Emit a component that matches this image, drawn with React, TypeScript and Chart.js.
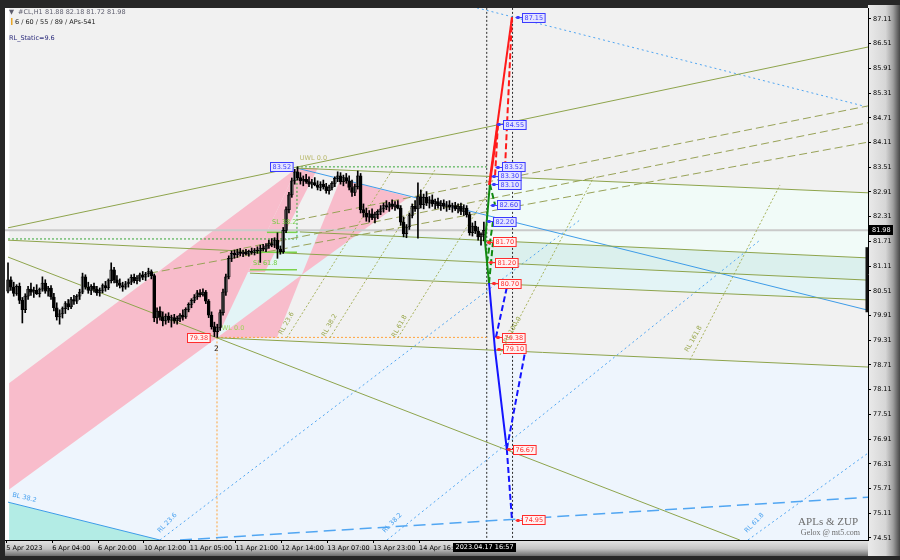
import React, { useEffect, useRef } from 'react';
import { Chart, registerables } from 'chart.js';

Chart.register(...registerables);

type Pt = [number, number];

// ---------- DATA ----------
// H1 candles: [open, high, low, close], bar index = position
const OHLC: number[][] = [
  [80.50, 81.19, 80.46, 80.78], [80.78, 80.85, 80.52, 80.60], [80.60, 80.72, 80.38, 80.45], [80.45, 80.66, 80.40, 80.62],
  [80.62, 80.70, 80.20, 80.28], [80.28, 80.35, 79.73, 80.05], [80.05, 80.44, 79.98, 80.38], [80.38, 80.62, 80.30, 80.55],
  [80.55, 80.70, 80.40, 80.48], [80.48, 80.60, 80.35, 80.52], [80.52, 80.66, 80.42, 80.44], [80.44, 80.58, 80.36, 80.55],
  [80.55, 80.85, 80.50, 80.70], [80.70, 80.78, 80.45, 80.50], [80.50, 80.62, 80.38, 80.58], [80.58, 80.64, 80.30, 80.36],
  [80.36, 80.45, 80.02, 80.10], [80.10, 80.22, 79.80, 79.88], [79.88, 80.05, 79.70, 79.95], [79.95, 80.12, 79.85, 80.08],
  [80.08, 80.25, 79.96, 80.20], [80.20, 80.30, 80.05, 80.12], [80.12, 80.35, 80.08, 80.30], [80.30, 80.40, 80.18, 80.26],
  [80.26, 80.42, 80.20, 80.38], [80.38, 80.55, 80.30, 80.48], [80.48, 80.94, 80.44, 80.85], [80.85, 80.90, 80.55, 80.60],
  [80.60, 80.72, 80.45, 80.52], [80.52, 80.66, 80.42, 80.62], [80.62, 80.70, 80.48, 80.55], [80.55, 80.62, 80.40, 80.46],
  [80.46, 80.58, 80.38, 80.52], [80.52, 80.68, 80.46, 80.64], [80.64, 80.74, 80.50, 80.58], [80.58, 80.80, 80.54, 80.76],
  [80.76, 81.19, 80.70, 81.02], [81.02, 81.08, 80.70, 80.78], [80.78, 80.88, 80.62, 80.70], [80.70, 80.80, 80.58, 80.64],
  [80.64, 80.72, 80.50, 80.60], [80.60, 80.74, 80.55, 80.68], [80.68, 80.80, 80.60, 80.72], [80.72, 80.90, 80.66, 80.84],
  [80.84, 80.92, 80.70, 80.76], [80.76, 80.88, 80.68, 80.82], [80.82, 80.94, 80.74, 80.90], [80.90, 80.98, 80.78, 80.84],
  [80.84, 80.96, 80.76, 80.92], [80.92, 81.06, 80.85, 80.98], [80.98, 81.02, 80.80, 80.88], [80.88, 80.92, 79.76, 79.85],
  [79.85, 80.10, 79.72, 80.02], [80.02, 80.12, 79.80, 79.88], [79.88, 80.00, 79.66, 79.78], [79.78, 79.95, 79.70, 79.90],
  [79.90, 79.98, 79.74, 79.80], [79.80, 79.92, 79.63, 79.86], [79.86, 79.94, 79.72, 79.78], [79.78, 79.90, 79.70, 79.84],
  [79.84, 79.96, 79.76, 79.92], [79.92, 80.05, 79.80, 79.88], [79.88, 80.10, 79.84, 80.06], [80.06, 80.22, 80.00, 80.18],
  [80.18, 80.32, 80.10, 80.28], [80.28, 80.42, 80.22, 80.36], [80.36, 80.52, 80.30, 80.46], [80.46, 80.54, 80.36, 80.42],
  [80.42, 80.56, 80.38, 80.48], [80.48, 80.52, 80.20, 80.26], [80.26, 80.30, 79.86, 79.92], [79.92, 80.00, 79.58, 79.64],
  [79.64, 79.75, 79.40, 79.52], [79.52, 79.70, 79.38, 79.62], [79.62, 80.05, 79.55, 79.98], [79.98, 80.55, 79.92, 80.48],
  [80.48, 80.92, 80.40, 80.85], [80.85, 81.36, 80.80, 81.30], [81.30, 81.48, 81.22, 81.42], [81.42, 81.50, 81.30, 81.38],
  [81.38, 81.52, 81.32, 81.46], [81.46, 81.54, 81.36, 81.42], [81.42, 81.50, 81.34, 81.45], [81.45, 81.52, 81.38, 81.40],
  [81.40, 81.50, 81.35, 81.47], [81.47, 81.55, 81.40, 81.44], [81.44, 81.54, 81.38, 81.50], [81.50, 81.58, 81.42, 81.48],
  [81.48, 81.62, 81.20, 81.55], [81.55, 81.64, 81.48, 81.52], [81.52, 81.66, 81.46, 81.60], [81.60, 81.74, 81.54, 81.66],
  [81.66, 81.78, 81.58, 81.62], [81.62, 81.80, 81.56, 81.74], [81.74, 81.92, 81.30, 81.52], [81.52, 81.60, 81.40, 81.46],
  [81.46, 82.05, 81.42, 81.98], [81.98, 82.55, 81.92, 82.48], [82.48, 82.90, 82.40, 82.84], [82.84, 83.25, 82.78, 83.18],
  [83.18, 83.46, 83.10, 83.40], [83.40, 83.52, 83.20, 83.26], [83.26, 83.38, 83.10, 83.18], [83.18, 83.30, 83.06, 83.22],
  [83.22, 83.34, 83.12, 83.16], [83.16, 83.28, 83.04, 83.10], [83.10, 83.22, 83.00, 83.14], [83.14, 83.26, 83.06, 83.08],
  [83.08, 83.18, 82.96, 83.02], [83.02, 83.16, 82.94, 83.10], [83.10, 83.20, 82.98, 83.04], [83.04, 83.12, 82.88, 82.94],
  [82.94, 83.08, 82.86, 83.02], [83.02, 83.16, 82.96, 83.12], [83.12, 83.28, 83.04, 83.24], [83.24, 83.40, 83.16, 83.30],
  [83.30, 83.38, 83.10, 83.16], [83.16, 83.32, 83.06, 83.26], [83.26, 83.36, 83.12, 83.18], [83.18, 83.30, 82.96, 83.02],
  [83.02, 83.20, 82.80, 82.90], [82.90, 83.10, 82.82, 83.04], [83.04, 83.42, 82.98, 83.30], [83.30, 83.36, 82.40, 82.48],
  [82.48, 82.62, 82.30, 82.40], [82.40, 82.52, 82.20, 82.30], [82.30, 82.46, 82.18, 82.38], [82.38, 82.50, 82.24, 82.28],
  [82.28, 82.42, 82.16, 82.36], [82.36, 82.48, 82.26, 82.44], [82.44, 82.58, 82.36, 82.50], [82.50, 82.64, 82.42, 82.58],
  [82.58, 82.70, 82.48, 82.54], [82.54, 82.66, 82.44, 82.62], [82.62, 82.72, 82.50, 82.56], [82.56, 82.68, 82.46, 82.60],
  [82.60, 82.70, 82.50, 82.52], [82.52, 82.58, 82.10, 82.18], [82.18, 82.30, 81.82, 81.90], [81.90, 82.12, 81.80, 82.06],
  [82.06, 82.40, 82.00, 82.34], [82.34, 82.62, 82.28, 82.56], [82.56, 82.70, 82.44, 82.50], [82.50, 83.13, 81.79, 82.80],
  [82.80, 82.96, 82.52, 82.60], [82.60, 82.86, 82.50, 82.78], [82.78, 82.92, 82.58, 82.64], [82.64, 82.80, 82.52, 82.72],
  [82.72, 82.84, 82.56, 82.62], [82.62, 82.74, 82.50, 82.68], [82.68, 82.76, 82.52, 82.58], [82.58, 82.70, 82.46, 82.64],
  [82.64, 82.72, 82.50, 82.56], [82.56, 82.68, 82.44, 82.60], [82.60, 82.70, 82.48, 82.54], [82.54, 82.64, 82.42, 82.58],
  [82.58, 82.66, 82.46, 82.50], [82.50, 82.62, 82.40, 82.56], [82.56, 82.64, 82.36, 82.44], [82.44, 82.60, 82.34, 82.52],
  [82.52, 82.58, 82.30, 82.36], [82.36, 82.42, 81.86, 81.92], [81.92, 82.16, 81.84, 82.08], [82.08, 82.20, 81.90, 81.96],
  [81.96, 82.06, 81.74, 81.82], [81.82, 81.92, 81.62, 81.88], [81.88, 82.18, 81.72, 81.98],
];

const Y_TICKS = [74.51, 75.11, 75.71, 76.31, 76.91, 77.51, 78.11, 78.71, 79.31, 79.91, 80.51,
  81.11, 81.71, 82.31, 82.91, 83.51, 84.11, 84.71, 85.31, 85.91, 86.51, 87.11];
const X_TICK_BARS = [-0.6, 15.4, 31.4, 47.4, 63.4, 79.4, 95.4, 111.4, 127.4, 143.4];
const X_TICK_LABELS = ['5 Apr 2023', '6 Apr 04:00', '6 Apr 20:00', '10 Apr 12:00', '11 Apr 05:00',
  '11 Apr 21:00', '12 Apr 14:00', '13 Apr 07:00', '13 Apr 23:00', '14 Apr 16:00'];

const SYMBOL = '#CL,H1';
const LAST_OHLC = [81.88, 82.18, 81.72, 81.98];
const ZUP_PARAMS = '6 / 60 / 55 / 89 / APs-541';
const RL_STATIC = 'RL_Static=9.6';
const BID = 81.98;
const CURRENT_TIME = '2023.04.17 16:57';
const MARKER_BARS = [167, 176];
const RIGHT_BAR_RANGE = [79.99, 81.57];

// line objects, [bar, price]
const OLIVE_SOLID: Pt[][] = [
  [[0, 82.04], [300, 86.43]],
  [[0, 81.74], [300, 80.77]],
  [[0, 81.33], [255.3, 74.46]],
  [[72.9, 79.37], [300, 78.66]],
  [[100.8, 83.49], [300, 82.89]],
  [[101.8, 81.94], [300, 81.31]],
  [[84.4, 80.94], [300, 80.29]],
];
const OLIVE_DASHED: Pt[][] = [
  [[100.8, 82.23], [300, 85.0]],
  [[73.9, 81.43], [300, 84.59]],
  [[49.5, 80.94], [300, 84.12]],
];
const RL_LINES: Pt[][] = [
  [[97.3, 79.37], [134.0, 83.44]],
  [[112.3, 79.37], [148.9, 83.44]],
  [[136.0, 79.37], [168.1, 82.96]],
  [[171.6, 78.95], [204.7, 83.32]],
  [[237.9, 78.83], [269.3, 83.08]],
];
const RL_NAMES = ['RL 23.6', 'RL 38.2', 'RL 61.8', 'RL 100.0', 'RL 161.8'];
const RL_ANCHORS: Pt[] = [[95.6, 79.44], [110.6, 79.39], [135.0, 79.37], [174.1, 79.24], [237.2, 79.02]];
const BLUE_RL_NAMES = ['RL 23.6', 'RL 38.2', 'RL 61.8'];
const BLUE_RL_ANCHORS: Pt[] = [[53, 74.63], [131.5, 74.63], [257.8, 74.63]];
const BLUE_DOTTED: Pt[][] = [
  [[53.0, 74.46], [199.5, 82.23]],
  [[132.2, 74.46], [262.3, 81.74]],
  [[258.1, 74.46], [300, 76.57]],
  [[163.6, 87.38], [300, 84.97]],
];
const BLUE_SOLID: Pt[][] = [
  [[100.8, 83.49], [300, 80.04]],
  [[0, 75.38], [53, 74.46]],
];
const BLUE_LONGDASH: Pt[][] = [[[60, 74.46], [300, 75.5]]];
const GREEN_DOTTED: Pt[][] = [
  [[0, 81.77], [100.8, 81.77]],
  [[100.8, 83.52], [100.8, 81.77]],
  [[100.8, 83.52], [167, 83.52]],
];
const ORANGE_DOTTED: Pt[][] = [
  [[72.9, 79.38], [167, 79.38]],
  [[72.9, 79.38], [72.9, 74.46]],
];
const GREEN_SHORT: Pt[][] = [
  [[90.3, 81.93], [100.8, 81.93]],
  [[84.4, 81.45], [100.8, 81.45]],
  [[84.4, 81.02], [100.8, 81.02]],
];
const ZUP_RED_SOLID: Pt[][] = [[[167.8, 83.08], [175.8, 87.15]], [[168.1, 83.10], [170.9, 84.55]]];
const ZUP_RED_DASHED: Pt[][] = [[[175.8, 87.15], [173.4, 83.52]], [[170.9, 84.55], [169.9, 83.30]]];
const ZUP_GREEN_SOLID: Pt[][] = [[[167.8, 80.70], [167.1, 81.20], [166.4, 81.70], [168.1, 83.10]]];
const ZUP_GREEN_DASHED: Pt[][] = [
  [[167.1, 81.20], [169.2, 82.20]], [[168.1, 83.10], [169.9, 82.60]], [[167.8, 80.70], [169.2, 81.70]],
];
const ZUP_BLUE_SOLID: Pt[][] = [[[167.8, 80.70], [169.9, 79.07], [174.0, 76.67]]];
const ZUP_BLUE_DASHED: Pt[][] = [
  [[174.0, 76.67], [175.8, 74.95]], [[174.0, 76.67], [180.3, 79.0]], [[170.2, 79.38], [174.4, 80.72]],
];
const ZUP_UP_LEVELS = [87.15, 84.55, 83.52, 83.30, 83.10, 82.60, 82.20];
const ZUP_UP_BARS = [179.3, 172.7, 172.3, 170.9, 170.9, 170.6, 169.2];
const ZUP_DN_LEVELS = [81.70, 81.20, 80.70, 79.38, 79.10, 76.67, 74.95];
const ZUP_DN_BARS = [169.2, 169.9, 170.9, 172.3, 172.7, 176.1, 179.3];
const PIVOT_HIGH: Pt = [91.4, 83.52];
const PIVOT_LOW: Pt = [62.4, 79.38];
const PIVOT_LOW_NAME = '2';
const PIVOT_LOW_NAME_AT: Pt = [72.9, 79.15];
const LEVEL_TEXTS = ['UWL 0.0', 'SL 38.2', 'SL 61.8', 'WL 0.0'];
const LEVEL_TEXT_AT: Pt[] = [[101.8, 83.69], [92.1, 82.13], [85.5, 81.14], [74.6, 79.56]];
const BL_TEXT = 'BL 38.2';
const BL_TEXT_AT: Pt = [1.4, 75.52];

// shaded zones
const ZONE_AZURE: Pt[] = [[0, 75.67], [72.9, 79.37], [300, 78.66], [300, 74.46], [0, 74.46]];
const ZONE_TURQ: Pt[] = [[0, 75.38], [53, 74.46], [0, 74.46]];
const ZONE_CYAN: Pt[] = [[72.9, 79.37], [88.6, 82.04], [300, 81.31], [300, 80.29], [102.5, 80.90], [93.8, 79.37]];
const ZONE_TEAL: Pt[] = [[167, 81.73], [300, 81.31], [300, 80.77], [167, 81.22]];
const ZONE_MINT: Pt[] = [[167, 83.29], [300, 82.89], [300, 81.31], [167, 81.73]];
const ZONE_PINK: Pt[][] = [
  [[100.8, 83.49], [0, 78.25], [0, 75.67], [72.9, 79.37]],
  [[72.9, 79.37], [93.8, 79.37], [102.5, 80.90]],
  [[102.5, 80.90], [116.0, 83.23], [139.9, 82.79]],
  [[83.7, 80.97], [89.6, 80.97], [108.1, 83.49], [100.8, 83.49]],
];

// ---------- RENDER ----------
const F = '"DejaVu Sans", "Liberation Sans", sans-serif';

const seg = (pts: Pt[], color: string, width: number, dash: number[], order: number) => ({
  type: 'line' as const,
  data: pts.map(([x, y]) => ({ x, y })),
  borderColor: color,
  borderWidth: width,
  borderDash: dash,
  pointRadius: 0,
  pointHoverRadius: 0,
  fill: false,
  tension: 0,
  order,
});

export default function App() {
  const ref = useRef<HTMLCanvasElement>(null);

  useEffect(() => {
    const canvas = ref.current!;

    const px = (chart: any, b: number, p: number) => [
      chart.scales.x.getPixelForValue(b),
      chart.scales.y.getPixelForValue(p),
    ];

    const poly = (chart: any, pts: Pt[], color: string) => {
      const ctx = chart.ctx;
      ctx.beginPath();
      pts.forEach(([b, p], i) => {
        const [X, Y] = px(chart, b, p);
        if (i) ctx.lineTo(X, Y); else ctx.moveTo(X, Y);
      });
      ctx.closePath();
      ctx.fillStyle = color;
      ctx.fill();
    };

    const framePlugin = {
      id: 'frame',
      beforeDraw(chart: any) {
        const ctx = chart.ctx;
        const { left, top, right, bottom } = chart.chartArea;
        ctx.save();
        ctx.fillStyle = '#272727';
        ctx.fillRect(0, 0, 900, 560);
        let g = ctx.createLinearGradient(right, 0, 900, 0);
        g.addColorStop(0, '#eaeaea');
        g.addColorStop(0.55, '#d6d6d6');
        g.addColorStop(0.78, '#a0a0a0');
        g.addColorStop(1, '#474747');
        ctx.fillStyle = g;
        ctx.fillRect(right, top - 3, 900 - right, bottom - top + 19);
        g = ctx.createLinearGradient(0, bottom, 0, bottom + 16);
        g.addColorStop(0, '#e6e6e6');
        g.addColorStop(0.55, '#c4c4c4');
        g.addColorStop(1, '#6c6c6c');
        ctx.fillStyle = g;
        ctx.fillRect(left, bottom, right - left, 16);
        ctx.fillStyle = '#ffffff';
        ctx.fillRect(left, top, right - left, bottom - top);
        const x0 = chart.scales.x.getPixelForValue(0.4);
        ctx.beginPath();
        ctx.rect(x0, top, right - x0, bottom - top);
        ctx.clip();
        ctx.fillStyle = '#f1f1f1';
        ctx.fillRect(x0, top, right - x0, bottom - top);
        poly(chart, ZONE_AZURE, '#eef5fd');
        poly(chart, ZONE_TURQ, '#b3ece5');
        poly(chart, ZONE_CYAN, '#e3f4f6');
        poly(chart, ZONE_MINT, '#f1fbf8');
        poly(chart, ZONE_TEAL, '#dbf0ed');
        ZONE_PINK.forEach((z) => poly(chart, z, '#f8bccb'));
        ctx.restore();
      },
      afterDatasetsDraw(chart: any) {
        const ctx = chart.ctx;
        const { left, top, right, bottom } = chart.chartArea;
        ctx.save();
        ctx.beginPath();
        ctx.rect(left, top, right - left, bottom - top);
        ctx.clip();

        const box = (b: number, p: number, txt: string, up: boolean, marker: boolean) => {
          const [X, Y] = px(chart, b, p);
          ctx.font = `6.5px ${F}`;
          const w = ctx.measureText(txt).width + 4;
          const h = 9;
          const col = up ? '#3b3bff' : '#ff2d2d';
          const x = Math.round(X) + 0.5;
          const y = Math.round(Y - h / 2) + 0.5;
          ctx.fillStyle = up ? '#e4e4ff' : '#fff2f2';
          ctx.fillRect(x, y, w, h);
          ctx.strokeStyle = col;
          ctx.lineWidth = 1;
          ctx.strokeRect(x, y, w, h);
          if (marker) {
            ctx.beginPath();
            ctx.moveTo(x - 7, Math.round(Y) + 0.5);
            ctx.lineTo(x, Math.round(Y) + 0.5);
            ctx.stroke();
            ctx.fillStyle = col;
            ctx.fillRect(x - 6, Math.round(Y) - 1, 3, 3);
          }
          ctx.fillStyle = col;
          ctx.textBaseline = 'middle';
          ctx.textAlign = 'left';
          ctx.fillText(txt, x + 2, y + h / 2 + 0.5);
        };
        ZUP_UP_LEVELS.forEach((v, i) => box(ZUP_UP_BARS[i], v, v.toFixed(2), true, true));
        ZUP_DN_LEVELS.forEach((v, i) => box(ZUP_DN_BARS[i], v, v.toFixed(2), false, true));
        box(PIVOT_HIGH[0], PIVOT_HIGH[1], PIVOT_HIGH[1].toFixed(2), true, false);
        box(PIVOT_LOW[0], PIVOT_LOW[1], PIVOT_LOW[1].toFixed(2), false, false);

        const txt = (s: string, b: number, p: number, ang: number, color: string, size = 6.5) => {
          const [X, Y] = px(chart, b, p);
          ctx.save();
          ctx.translate(X, Y);
          ctx.rotate(ang);
          ctx.font = `${size}px ${F}`;
          ctx.fillStyle = color;
          ctx.textAlign = 'left';
          ctx.textBaseline = 'alphabetic';
          ctx.fillText(s, 0, 0);
          ctx.restore();
        };
        RL_NAMES.forEach((s, i) => txt(s, RL_ANCHORS[i][0], RL_ANCHORS[i][1], -1.06, '#9aa84e'));
        BLUE_RL_NAMES.forEach((s, i) => txt(s, BLUE_RL_ANCHORS[i][0], BLUE_RL_ANCHORS[i][1], -0.8, '#4aa2f0'));
        txt(BL_TEXT, BL_TEXT_AT[0], BL_TEXT_AT[1], 0.24, '#4aa2f0');
        const lvlColors = ['#b8b86a', '#6fcf3c', '#6fcf3c', '#9fd45a'];
        LEVEL_TEXTS.forEach((s, i) => txt(s, LEVEL_TEXT_AT[i][0], LEVEL_TEXT_AT[i][1], 0, lvlColors[i]));
        txt(PIVOT_LOW_NAME, PIVOT_LOW_NAME_AT[0] - 1.0, PIVOT_LOW_NAME_AT[1] - 0.1, 0, '#222', 7.5);

        const y1 = chart.scales.y.getPixelForValue(RIGHT_BAR_RANGE[1]);
        const y2 = chart.scales.y.getPixelForValue(RIGHT_BAR_RANGE[0]);
        ctx.fillStyle = '#111';
        ctx.fillRect(right - 2.5, y1, 2.5, y2 - y1);
        ctx.restore();
      },
      afterDraw(chart: any) {
        const ctx = chart.ctx;
        const { right, bottom } = chart.chartArea;
        ctx.save();
        ctx.textBaseline = 'middle';
        ctx.textAlign = 'left';
        ctx.font = `6.5px ${F}`;
        ctx.fillStyle = '#5d5d6d';
        ctx.fillText('\u25BC', 9, 12);
        ctx.fillText(SYMBOL, 18, 12);
        ctx.fillText(LAST_OHLC.map((v) => v.toFixed(2)).join(' '), 45, 12);
        ctx.fillStyle = '#e8a628';
        ctx.fillRect(11, 18, 1.5, 7);
        ctx.fillStyle = '#222';
        ctx.fillText(ZUP_PARAMS, 15, 22);
        ctx.fillStyle = '#2c2c7c';
        ctx.fillText(RL_STATIC, 9, 38);
        ctx.textAlign = 'right';
        ctx.fillStyle = '#6c6c6c';
        ctx.font = `11px "Liberation Serif", serif`;
        ctx.fillText('APLs & ZUP', 858, 522);
        ctx.font = `8px "Liberation Serif", serif`;
        ctx.fillText('Gelox @ mt5.com', 860, 533);
        // bid price box
        const yb = Math.round(chart.scales.y.getPixelForValue(BID));
        ctx.fillStyle = '#000';
        ctx.fillRect(right, yb - 5, 25, 10);
        ctx.fillStyle = '#fff';
        ctx.textAlign = 'left';
        ctx.font = `6.5px ${F}`;
        ctx.fillText(BID.toFixed(2), right + 4, yb + 0.5);
        // current time box
        const xt = chart.scales.x.getPixelForValue(MARKER_BARS[0]);
        const tw = ctx.measureText(CURRENT_TIME).width + 5;
        ctx.fillStyle = '#000';
        ctx.fillRect(Math.round(xt - tw / 2 - 2), bottom + 3, tw, 9);
        ctx.fillStyle = '#fff';
        ctx.fillText(CURRENT_TIME, Math.round(xt - tw / 2 - 2) + 2.5, bottom + 7.5);
        ctx.restore();
      },
    };

    const candleColors = OHLC.map((c) => (c[3] >= c[0] ? '#ffffff' : '#000000'));

    const datasets: any[] = [
      {
        type: 'bar',
        data: OHLC.map((c, i) => ({ x: i, y: [c[2], c[1]] })),
        backgroundColor: '#000000',
        barThickness: 1,
        maxBarThickness: 1,
        grouped: false,
        order: 1,
      },
      {
        type: 'bar',
        data: OHLC.map((c, i) => ({ x: i, y: c[0] === c[3] ? [c[0], c[0] + 0.01] : [c[0], c[3]] })),
        backgroundColor: candleColors,
        borderColor: '#000000',
        borderWidth: 0.75,
        borderSkipped: false,
        barThickness: 3,
        maxBarThickness: 3,
        grouped: false,
        order: 1,
      },
      seg([[-1.05, BID], [300, BID]], '#cacaca', 2, [], 5),
      ...MARKER_BARS.map((b) => seg([[b, 87.38], [b, 74.46]], '#2a2a2a', 1, [2, 2], 4)),
      ...OLIVE_SOLID.map((l) => seg(l, '#8ea44c', 1, [], 3)),
      ...OLIVE_DASHED.map((l) => seg(l, '#98a257', 1, [8, 4], 3)),
      ...RL_LINES.map((l) => seg(l, '#a7b25c', 1, [2, 2], 3)),
      ...BLUE_DOTTED.map((l) => seg(l, '#51a6f2', 1, [2, 3], 3)),
      ...BLUE_SOLID.map((l) => seg(l, '#3e9ce8', 1, [], 3)),
      ...BLUE_LONGDASH.map((l) => seg(l, '#51a6f2', 1.5, [12, 6], 3)),
      ...GREEN_DOTTED.map((l) => seg(l, '#36a636', 1, [2, 2], 3)),
      ...ORANGE_DOTTED.map((l) => seg(l, '#ffa43c', 1, [2, 2], 3)),
      ...GREEN_SHORT.map((l) => seg(l, '#7bd24a', 1.5, [], 2)),
      ...ZUP_RED_SOLID.map((l) => seg(l, '#ff1a1a', 2, [], 0)),
      ...ZUP_RED_DASHED.map((l) => seg(l, '#ff1a1a', 2, [6, 3], 0)),
      ...ZUP_GREEN_SOLID.map((l) => seg(l, '#118a11', 2, [], 0)),
      ...ZUP_GREEN_DASHED.map((l) => seg(l, '#118a11', 2, [6, 3], 0)),
      ...ZUP_BLUE_SOLID.map((l) => seg(l, '#1414ff', 2, [], 0)),
      ...ZUP_BLUE_DASHED.map((l) => seg(l, '#1414ff', 2, [6, 3], 0)),
    ];

    const tickFont = { family: 'DejaVu Sans', size: 6.5 };

    const chart = new Chart(canvas, {
      type: 'bar',
      data: { datasets },
      options: {
        animation: false,
        responsive: false,
        devicePixelRatio: 1,
        events: [],
        layout: { padding: { left: 5, top: 8, right: 0, bottom: 0 } },
        plugins: { legend: { display: false }, tooltip: { enabled: false } },
        scales: {
          x: {
            type: 'linear',
            min: -1.05,
            max: 300,
            offset: false,
            grid: { offset: false, drawOnChartArea: false, drawTicks: true, tickLength: 3, color: '#000' },
            border: { display: true, color: '#000' },
            ticks: {
              autoSkip: false,
              maxRotation: 0,
              minRotation: 0,
              align: 'start',
              padding: 1,
              color: '#000',
              font: tickFont,
              callback: (_v: any, i: number) => X_TICK_LABELS[i],
            },
            afterBuildTicks: (scale: any) => {
              scale.ticks = X_TICK_BARS.map((v) => ({ value: v }));
            },
            afterFit: (scale: any) => {
              scale.height = 20;
            },
          },
          y: {
            type: 'linear',
            position: 'right',
            min: 74.461,
            max: 87.377,
            beginAtZero: false,
            grid: { drawOnChartArea: false, drawTicks: true, tickLength: 3, color: '#000' },
            border: { display: true, color: '#000' },
            ticks: {
              padding: 2,
              color: '#000',
              font: tickFont,
              callback: (v: any) => Number(v).toFixed(2),
            },
            afterBuildTicks: (scale: any) => {
              scale.ticks = Y_TICKS.map((v) => ({ value: v }));
            },
            afterFit: (scale: any) => {
              scale.width = 32;
            },
          },
        },
      } as any,
      plugins: [framePlugin],
    });

    return () => chart.destroy();
  }, []);

  return (
    <div style={{ position: 'fixed', left: 0, top: 0, width: 900, height: 560, overflow: 'hidden', background: '#272727' }}>
      <canvas ref={ref} width={900} height={560} style={{ display: 'block', width: 900, height: 560 }} />
    </div>
  );
}
